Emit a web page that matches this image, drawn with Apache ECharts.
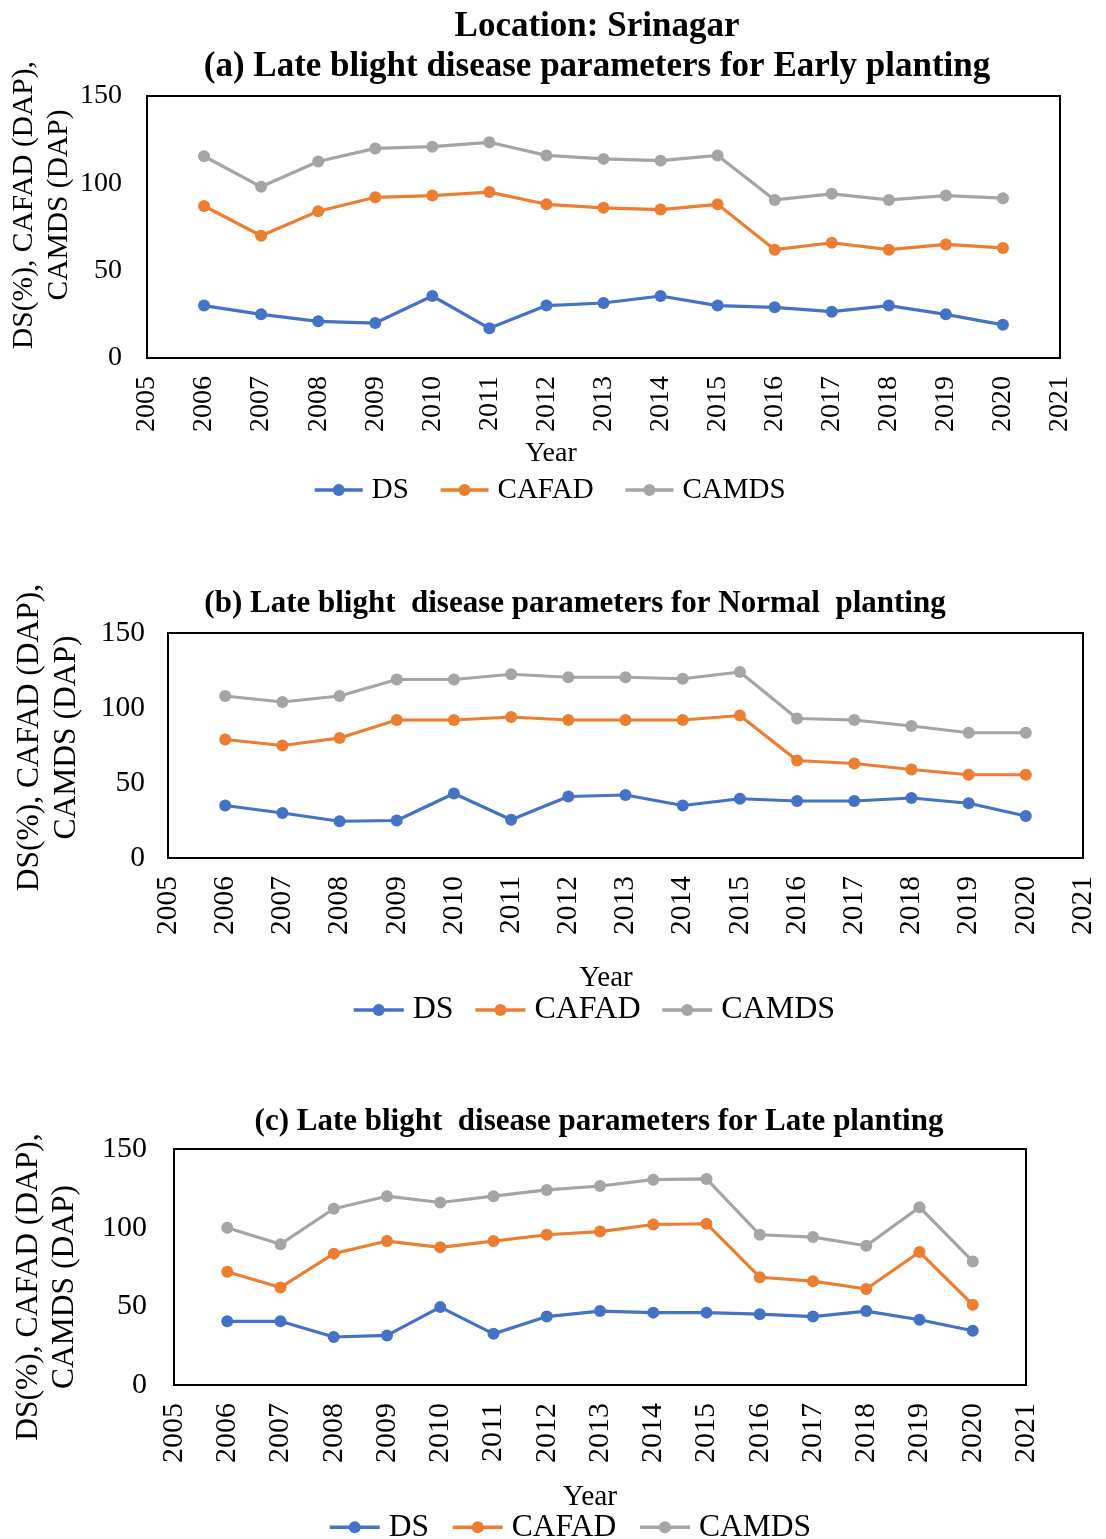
<!DOCTYPE html>
<html>
<head>
<meta charset="utf-8">
<title>Late blight disease parameters – Srinagar</title>
<script src="https://cdn.jsdelivr.net/npm/echarts@6/dist/echarts.min.js"></script>
<style>
  html, body { margin: 0; padding: 0; background: #fff; }
  #chart { width: 1106px; height: 1539px; }
</style>
</head>
<body>
<div id="chart"></div>
<script>
// Years of observation (plotted on a numeric year axis)
const years = [2006, 2007, 2008, 2009, 2010, 2011, 2012, 2013, 2014, 2015, 2016, 2017, 2018, 2019, 2020];

// (a) Early planting
const dsEarly    = [30, 25, 21, 20, 35.5, 17, 30, 31.5, 35.5, 30, 29, 26.5, 30, 25, 19];
const cafadEarly = [87, 70, 84, 92, 93, 95, 88, 86, 85, 88, 62, 66, 62, 65, 63];
const camdsEarly = [115.5, 98, 112.5, 120, 121, 123.5, 116, 114, 113, 116, 90.5, 94, 90.5, 93, 91.5];

// (b) Normal planting
const dsNormal    = [35, 30, 24.5, 25, 43, 25.5, 41, 42, 35, 39.5, 38, 38, 40, 36.5, 28];
const cafadNormal = [79, 75, 80, 92, 92, 94, 92, 92, 92, 95, 65, 63, 59, 55.5, 55.5];
const camdsNormal = [108, 104, 108, 119, 119, 122.5, 120.5, 120.5, 119.5, 124, 93, 92, 88, 83.5, 83.5];

// (c) Late planting
const dsLate    = [40.5, 40.5, 30.5, 31.5, 49.5, 32.5, 43.5, 47, 46, 46, 45, 43.5, 47, 41.5, 34.5];
const cafadLate = [72, 62, 83.5, 91.5, 87.5, 91.5, 95.5, 97.5, 102, 102.5, 68.5, 66, 61, 84.5, 51];
const camdsLate = [100, 89.5, 112, 120, 116, 120, 124, 126.5, 130.5, 131, 95.5, 94, 88.5, 113, 78.5];

// Axis ranges and ticks
const yearMin = 2005, yearMax = 2021, yearStep = 1;
const yMin = 0, yMax = 150, yStep = 50;

const seriesNames = ['DS', 'CAFAD', 'CAMDS'];
const seriesColors = ['#4472C4', '#ED7D31', '#A5A5A5'];

const FONT = '"Liberation Serif", "Times New Roman", Times, serif';
const chart = echarts.init(document.getElementById('chart'), null, { renderer: 'canvas' });

// Per-panel layout settings
const panels = [
  {
    data: [dsEarly, cafadEarly, camdsEarly],
    grid: { left: 147, top: 96, width: 913, height: 262 },
    tickFont: 28, yLabelMargin: 25, xLabelMargin: 18,
    yName: { size: 29.5, lh: 34.5, gap: 71, pad: [0, 0, 0, 44] },
    xName: { size: 28, gap: 82, pad: [0, 105, 0, 0] },
    legend: { left: 313, cy: 490, size: 29, gap: 30, iconW: 48 }
  },
  {
    data: [dsNormal, cafadNormal, camdsNormal],
    grid: { left: 168, top: 633, width: 915, height: 225 },
    tickFont: 29.5, yLabelMargin: 23, xLabelMargin: 18,
    yName: { size: 31.5, lh: 37, gap: 83, pad: [0, 0, 0, 16] },
    xName: { size: 29, gap: 106, pad: [0, 39, 0, 0] },
    legend: { left: 352, cy: 1010, size: 32, gap: 20, iconW: 50 }
  },
  {
    data: [dsLate, cafadLate, camdsLate],
    grid: { left: 174, top: 1149, width: 852, height: 236 },
    tickFont: 30, yLabelMargin: 27, xLabelMargin: 18,
    yName: { size: 31.5, lh: 36, gap: 91, pad: [0, 40, 0, 0] },
    xName: { size: 29.5, gap: 97, pad: [0, 20, 0, 0] },
    legend: { left: 328, cy: 1527, size: 31.5, gap: 22, iconW: 50 }
  }
];

const grids = [], xAxes = [], yAxes = [], series = [], legends = [];

panels.forEach((p, i) => {
  grids.push(Object.assign({
    show: true,
    borderColor: '#000',
    borderWidth: 2,
    backgroundColor: 'transparent',
    containLabel: false,
    outerBoundsMode: 'none'
  }, p.grid));

  xAxes.push({
    gridIndex: i,
    type: 'value',
    min: yearMin,
    max: yearMax,
    interval: yearStep,
    name: 'Year',
    nameLocation: 'middle',
    nameGap: p.xName.gap,
    nameMoveOverlap: false,
    nameTextStyle: {
      fontFamily: FONT, fontSize: p.xName.size, color: '#000',
      lineHeight: p.xName.size, padding: p.xName.pad
    },
    axisLine: { show: true, onZero: false, lineStyle: { color: '#000', width: 2 } },
    axisTick: { show: false },
    splitLine: { show: false },
    axisLabel: {
      rotate: 90,
      margin: p.xLabelMargin,
      fontFamily: FONT,
      fontSize: p.tickFont,
      color: '#000',
      formatter: v => String(v)
    }
  });

  yAxes.push({
    gridIndex: i,
    type: 'value',
    min: yMin,
    max: yMax,
    interval: yStep,
    name: 'DS(%), CAFAD (DAP),\nCAMDS (DAP)',
    nameLocation: 'middle',
    nameRotate: 90,
    nameGap: p.yName.gap,
    nameMoveOverlap: false,
    nameTextStyle: {
      fontFamily: FONT, fontSize: p.yName.size, color: '#000',
      lineHeight: p.yName.lh, align: 'center', padding: p.yName.pad
    },
    axisLine: { show: true, onZero: false, lineStyle: { color: '#000', width: 2 } },
    axisTick: { show: false },
    splitLine: { show: false },
    axisLabel: {
      margin: p.yLabelMargin,
      fontFamily: FONT,
      fontSize: p.tickFont,
      color: '#000',
      padding: [5, 0, 0, 0]
    }
  });

  p.data.forEach((vals, k) => {
    series.push({
      name: seriesNames[k],
      type: 'line',
      xAxisIndex: i,
      yAxisIndex: i,
      data: years.map((y, j) => [y, vals[j]]),
      symbol: 'circle',
      symbolSize: 12,
      showSymbol: true,
      color: seriesColors[k],
      lineStyle: { color: seriesColors[k], width: 3.2 },
      itemStyle: { color: seriesColors[k] },
      emphasis: { disabled: true },
      animation: false,
      z: 3 + k
    });
  });

  legends.push({
    data: seriesNames,
    orient: 'horizontal',
    left: p.legend.left,
    top: p.legend.cy - p.legend.size / 2,
    padding: 0,
    itemGap: p.legend.gap,
    itemWidth: p.legend.iconW,
    itemHeight: 15,
    selectedMode: false,
    lineStyle: { width: 3.5 },
    itemStyle: { borderWidth: 0 },
    textStyle: {
      fontFamily: FONT, fontSize: p.legend.size, color: '#000',
      lineHeight: p.legend.size, padding: [0, 0, 0, 4]
    }
  });
});

const titles = [
  { text: 'Location: Srinagar', cx: 597, cy: 27, size: 35 },
  { text: '(a) Late blight disease parameters for Early planting', cx: 597, cy: 67, size: 35 },
  { text: '(b) Late blight  disease parameters for Normal  planting', cx: 575, cy: 604, size: 31 },
  { text: '(c) Late blight  disease parameters for Late planting', cx: 599, cy: 1122, size: 31 }
].map(t => ({
  text: t.text,
  left: t.cx,
  top: t.cy - t.size / 2,
  textAlign: 'center',
  padding: 0,
  textStyle: {
    fontFamily: FONT, fontWeight: 'bold', fontSize: t.size,
    lineHeight: t.size, color: '#000'
  }
}));

chart.setOption({
  backgroundColor: '#fff',
  animation: false,
  title: titles,
  grid: grids,
  xAxis: xAxes,
  yAxis: yAxes,
  legend: legends,
  series: series
});
</script>
</body>
</html>
